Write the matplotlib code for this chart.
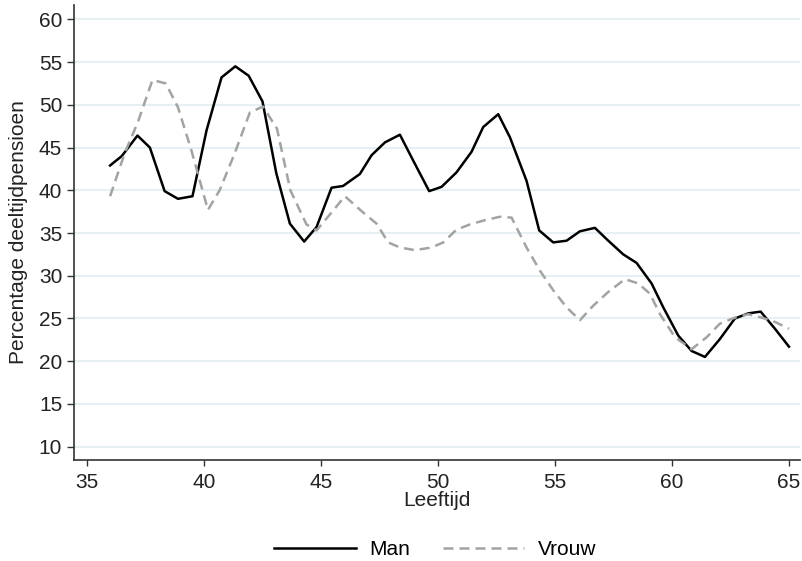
import matplotlib.pyplot as plt

# Values
man_age = [36.0, 36.5, 37.17, 37.7, 38.33, 38.9, 39.52, 40.12, 40.76, 41.35,
           41.92, 42.51, 43.1, 43.68, 44.29, 44.82, 45.46, 45.95, 46.67, 47.17,
           47.74, 48.38, 49.0, 49.63, 50.16, 50.8, 51.44, 51.94, 52.58, 53.08,
           53.79, 54.33, 54.93, 55.5, 56.07, 56.71, 57.28, 57.92, 58.49, 59.13,
           59.63, 60.27, 60.84, 61.41, 62.05, 62.69, 63.26, 63.79, 64.4, 65.0]
man_pct = [42.9, 44.0, 46.4, 45.0, 39.9, 39.0, 39.3, 47.0, 53.2, 54.5,
           53.4, 50.4, 42.0, 36.1, 34.0, 35.7, 40.3, 40.5, 41.9, 44.1,
           45.6, 46.5, 43.2, 39.9, 40.4, 42.1, 44.5, 47.4, 48.9, 46.2,
           41.1, 35.3, 33.9, 34.1, 35.2, 35.6, 34.1, 32.5, 31.5, 29.1,
           26.3, 23.0, 21.2, 20.5, 22.6, 25.0, 25.6, 25.8, 23.8, 21.7]

vrouw_age = [36.0, 36.62, 37.19, 37.81, 38.38, 38.9, 39.47, 40.18, 40.68, 41.32,
             41.97, 42.53, 43.13, 43.7, 44.39, 44.82, 45.46, 46.03, 46.81, 47.38,
             47.88, 48.38, 49.02, 49.73, 50.23, 50.8, 51.37, 52.01, 52.65, 53.15,
             53.79, 54.36, 54.93, 55.5, 56.07, 56.64, 57.28, 57.99, 58.56, 59.06,
             59.49, 60.13, 60.84, 61.48, 62.05, 62.69, 63.26, 63.83, 64.4, 65.0]
vrouw_pct = [39.3, 44.3, 48.0, 52.9, 52.5, 49.7, 44.7, 37.7, 40.0, 44.3,
             49.1, 49.8, 47.2, 40.0, 36.0, 35.3, 37.4, 39.3, 37.4, 36.1,
             33.9, 33.3, 33.0, 33.3, 33.9, 35.4, 36.0, 36.5, 36.9, 36.8,
             33.3, 30.6, 28.3, 26.3, 24.8, 26.5, 28.1, 29.6, 29.1, 27.9,
             25.5, 22.8, 21.4, 22.8, 24.4, 25.1, 25.5, 25.1, 24.6, 23.8]

x_ticks = [35, 40, 45, 50, 55, 60, 65]
y_ticks = [10, 15, 20, 25, 30, 35, 40, 45, 50, 55, 60]

plt.rcParams['font.family'] = ['Liberation Sans', 'DejaVu Sans']
plt.rcParams['font.size'] = 15

fig = plt.figure(figsize=(8.02, 5.61), dpi=100)
ax = fig.add_axes([0.0923, 0.18, 0.9052, 0.811])

# light horizontal grid, Stata style
for y in y_ticks:
    ax.axhline(y, color='#e6eff2', lw=1.5, zorder=0)

ax.plot(man_age, man_pct, color='black', lw=1.8, label='Man')
ax.plot(vrouw_age, vrouw_pct, color='#a3a3a3', lw=1.8, ls=(0, (4, 2.4)), label='Vrouw')

ax.set_xlim(34.46, 65.47)
ax.set_ylim(8.44, 61.67)
ax.set_xticks(x_ticks)
ax.set_yticks(y_ticks)
ax.tick_params(axis='x', direction='out', length=4, width=1, color='#333333',
               labelcolor='#222222', pad=5.5)
ax.tick_params(axis='y', direction='out', length=5, width=1, color='#333333',
               labelcolor='#222222', pad=3.5)
for side in ['top', 'right']:
    ax.spines[side].set_visible(False)
for side in ['left', 'bottom']:
    ax.spines[side].set_color('#333333')
    ax.spines[side].set_linewidth(1.2)

ax.set_xlabel('Leeftijd', labelpad=-1, color='#222222')
ax.set_ylabel('Percentage deeltijdpensioen', labelpad=8, color='#222222')

fig.legend(loc='center', bbox_to_anchor=(0.543, 0.02), ncol=2, frameon=False,
           handlelength=3.9, columnspacing=1.55, handletextpad=0.67)

fig.savefig('out.png', dpi=100, facecolor='white')
